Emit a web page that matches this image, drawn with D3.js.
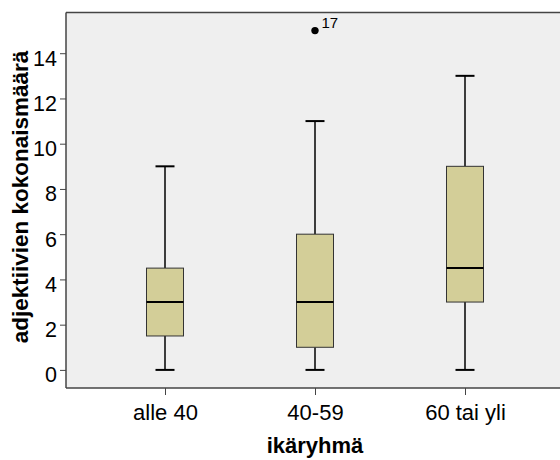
<!DOCTYPE html>
<html>
<head>
<meta charset="utf-8">
<script src="https://cdn.jsdelivr.net/npm/d3@7"></script>
<style>
  html, body { margin: 0; padding: 0; background: #fff; }
  svg { display: block; font-family: Arial, "Liberation Sans", sans-serif; }
</style>
</head>
<body>
<svg id="chart" width="560" height="460"></svg>
<script>
// Age groups and five-number summaries of the adjective counts
const categories = ["alle 40", "40-59", "60 tai yli"];
const whiskerLow = [0, 0, 0];
const quartile1 = [1.5, 1, 3];
const medians = [3, 3, 4.5];
const quartile3 = [4.5, 6, 9];
const whiskerHigh = [9, 11, 13];
// Outliers: group, value, case number
const outlierGroups = ["40-59"];
const outlierValues = [15];
const outlierCases = ["17"];
const yTicks = [0, 2, 4, 6, 8, 10, 12, 14];

const svg = d3.select("#chart");
const plotLeft = 66, plotTop = 12.5, plotBottom = 388, plotRight = 564;
const FONT = "Arial, 'Liberation Sans', sans-serif";

const x = d3.scalePoint().domain(categories).range([plotLeft, plotRight]).padding(0.66);
const y = d3.scaleLinear().domain([-0.8, 15.8]).range([plotBottom, plotTop]);

// Plot background
svg.append("rect")
  .attr("x", plotLeft).attr("y", plotTop)
  .attr("width", plotRight - plotLeft).attr("height", plotBottom - plotTop)
  .attr("fill", "#efefef");

// Frame line along the top
svg.append("line").attr("x1", plotLeft).attr("x2", plotRight).attr("y1", plotTop).attr("y2", plotTop)
  .attr("stroke", "#444").attr("stroke-width", 1.5);

const boxW = 37, capW = 19;

const rows = categories.map((c, i) => ({
  c, lo: whiskerLow[i], q1: quartile1[i], med: medians[i], q3: quartile3[i], hi: whiskerHigh[i]
}));

const g = svg.append("g");
rows.forEach(d => {
  const cx = x(d.c);
  // whisker stems
  g.append("line").attr("x1", cx).attr("x2", cx).attr("y1", y(d.q3)).attr("y2", y(d.hi))
    .attr("stroke", "#000").attr("stroke-width", 1.5);
  g.append("line").attr("x1", cx).attr("x2", cx).attr("y1", y(d.q1)).attr("y2", y(d.lo))
    .attr("stroke", "#000").attr("stroke-width", 1.5);
  // caps
  [d.lo, d.hi].forEach(v => {
    g.append("line").attr("x1", cx - capW / 2).attr("x2", cx + capW / 2)
      .attr("y1", y(v)).attr("y2", y(v))
      .attr("stroke", "#000").attr("stroke-width", 2);
  });
  // box
  g.append("rect")
    .attr("x", cx - boxW / 2).attr("y", y(d.q3))
    .attr("width", boxW).attr("height", y(d.q1) - y(d.q3))
    .attr("fill", "#d3ce98").attr("stroke", "#333").attr("stroke-width", 1);
  // median
  g.append("line").attr("x1", cx - boxW / 2).attr("x2", cx + boxW / 2)
    .attr("y1", y(d.med)).attr("y2", y(d.med))
    .attr("stroke", "#000").attr("stroke-width", 2);
});

// Outliers with case numbers
outlierGroups.forEach((c, i) => {
  const cx = x(c), cy = y(outlierValues[i]);
  svg.append("circle").attr("cx", cx).attr("cy", cy).attr("r", 3.7).attr("fill", "#000");
  svg.append("text").attr("x", cx + 6.5).attr("y", cy - 2.5)
    .attr("font-size", 15).attr("font-family", FONT).attr("fill", "#000").text(outlierCases[i]);
});

// Y axis
const yAxis = svg.append("g").attr("transform", `translate(${plotLeft},0)`)
  .call(d3.axisLeft(y).tickValues(yTicks).tickSize(6).tickPadding(3).tickFormat(d3.format("d")));
yAxis.select(".domain").attr("d", `M0,${plotTop}V${plotBottom}`).attr("stroke", "#444").attr("stroke-width", 1.5);
yAxis.selectAll(".tick line").attr("stroke", "#444");
yAxis.selectAll(".tick text").attr("font-size", 21.5).attr("dy", "0.55em")
  .attr("fill", "#000").attr("font-family", FONT);

// X axis
const xAxis = svg.append("g").attr("transform", `translate(0,${plotBottom})`)
  .call(d3.axisBottom(x).tickSize(7).tickPadding(9));
xAxis.select(".domain").attr("d", `M${plotLeft},0H${plotRight}`).attr("stroke", "#444").attr("stroke-width", 1.5);
xAxis.selectAll(".tick line").attr("stroke", "#444");
xAxis.selectAll(".tick text").attr("font-size", 22).attr("fill", "#000").attr("font-family", FONT);

// Axis titles
svg.append("text")
  .attr("transform", "translate(27.5,197) rotate(-90)")
  .attr("text-anchor", "middle").attr("font-size", 22.5).attr("font-weight", "bold")
  .attr("font-family", FONT)
  .text("adjektiivien kokonaismäärä");
svg.append("text")
  .attr("x", x("40-59")).attr("y", 453)
  .attr("text-anchor", "middle").attr("font-size", 22).attr("font-weight", "bold")
  .attr("font-family", FONT)
  .text("ikäryhmä");
</script>
</body>
</html>
